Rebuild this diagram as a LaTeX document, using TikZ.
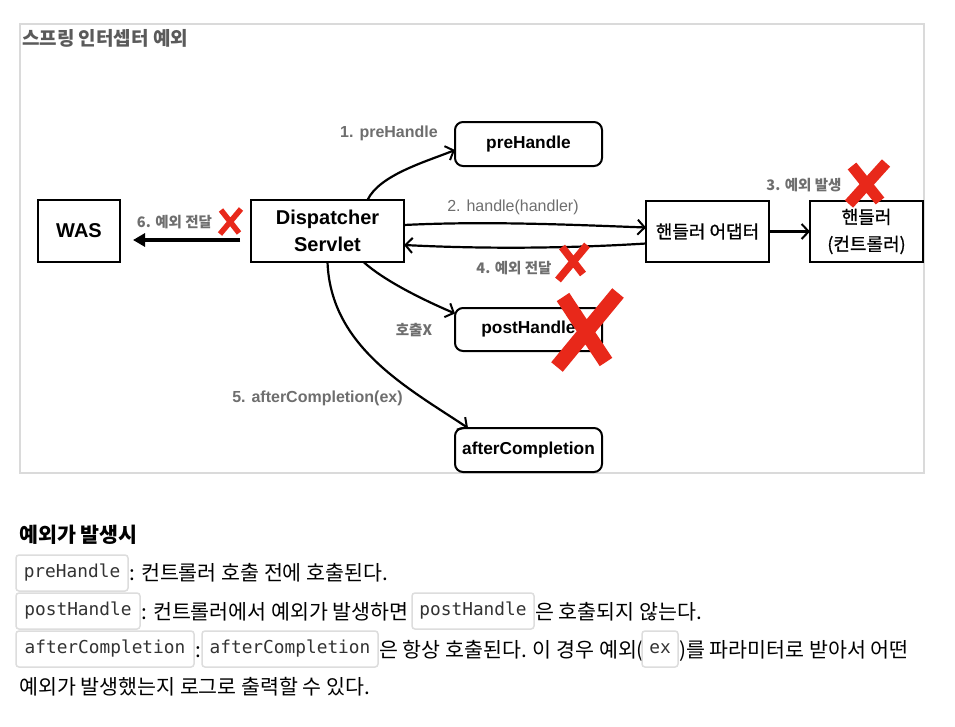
\documentclass[tikz,border=0pt]{standalone}
\usepackage{fontspec}
\setmainfont{Liberation Sans}
\newfontfamily\kr{Noto Sans CJK KR}
\newfontfamily\krm[FakeBold=0.8]{Noto Sans CJK KR}
\newfontfamily\monofnt{DejaVu Sans Mono}
\usetikzlibrary{arrows.meta}
\definecolor{lblgray}{HTML}{6E6E6E}
\definecolor{xred}{HTML}{E8281A}
\definecolor{codeborder}{HTML}{DDDDDD}
\definecolor{codetext}{HTML}{333333}
\definecolor{frameg}{HTML}{DADADA}
\definecolor{titleg}{HTML}{5A5A5A}
\tikzset{
  nbox/.style={draw=black, line width=2pt, inner sep=0pt, outer sep=0pt, align=center,
    font=\fontsize{20}{27}\selectfont\bfseries},
  rbox/.style={nbox, rounded corners=8pt, font=\fontsize{17.3}{20}\selectfont\bfseries},
  kbox/.style={nbox, font=\krm\fontsize{18}{29}\selectfont},
  conn/.style={line width=2.2pt, -{Straight Barb[length=7pt,width=15pt,line width=2pt]}},
  lbl/.style={text=lblgray, font=\fontsize{16}{19}\selectfont\bfseries, inner sep=0pt},
  lblthin/.style={text=lblgray, font=\fontsize{16}{19}\selectfont, inner sep=0pt},
  klbl/.style={text=lblgray, font=\kr\fontsize{14.5}{17}\selectfont\bfseries, inner sep=0pt},
  xmark/.style={draw=xred, line cap=butt},
  codebox/.style={draw=codeborder, line width=1.5pt, rounded corners=3pt, fill=white,
    text=codetext, font=\monofnt\fontsize{17.8}{20}\selectfont, inner sep=0pt, outer sep=0pt,
    minimum height=36pt},
  bodytxt/.style={font=\kr\fontsize{20.6}{24}\selectfont, text=black, inner sep=0pt, anchor=base west},
}
\begin{document}
\begin{tikzpicture}[x=1pt,y=-1pt]
\fill[white] (0,0) rectangle (955,726);
\useasboundingbox (0,0) rectangle (955,726);
% frame
\draw[frameg, line width=2pt] (20,24) rectangle (924,473);
\node[anchor=west, text=titleg, inner sep=0pt, font=\kr\fontsize{19}{22}\selectfont\bfseries] (title) at (22,38) {스프링 인터셉터 예외};

% boxes
\node[nbox, minimum width=82pt, minimum height=62pt] (was) at (79,231) {WAS};
\node[nbox, minimum width=153pt, minimum height=62pt] (ds) at (327.5,231) {Dispatcher\\Servlet};
\node[rbox, minimum width=147pt, minimum height=44pt] (pre) at (528.5,144) {preHandle};
\node[rbox, minimum width=147pt, minimum height=43pt] (post) at (528.5,329.5) {postHandle};
\node[rbox, minimum width=147pt, minimum height=44pt] (after) at (528.5,450) {afterCompletion};
\node[kbox, minimum width=123pt, minimum height=61pt] (adapter) at (707.5,231.5) {핸들러 어댑터};
\node[kbox, minimum width=113pt, minimum height=61pt] (handler) at (866.5,231.5) {\raisebox{-2pt}{핸들러}\\(컨트롤러)};

% connectors
\draw[conn] ([xshift=40pt]ds.north) .. controls +(12,-25) and +(-30,12) .. ([yshift=-6pt]pre.west);
\draw[conn] ([yshift=6pt]ds.east) .. controls +(80,-4) and +(-80,-3) .. ([yshift=4pt]adapter.west);
\draw[conn] ([yshift=-12pt]adapter.west) .. controls +(-80,5) and +(80,4) .. ([yshift=-14pt]ds.east);
\draw[conn] (adapter.east) -- (handler.west);
\draw[line width=4pt, -{Triangle[length=12pt,width=13pt]}] ([xshift=-11pt,yshift=-9pt]ds.west) -- ([xshift=13pt,yshift=-9pt]was.east);
\draw[conn] ([xshift=36pt]ds.south) .. controls +(20,18) and +(-35,-15) .. ([yshift=16pt]post.west);
\draw[conn] (ds.south) .. controls +(3,85) and +(-60,-40) .. ([xshift=-60.5pt]after.north);

% labels
\node[lbl] (l1) at (389,133) {1. preHandle};
\node[lblthin] (l2) at (513,207) {2. handle(handler)};
\node[klbl] (l3) at (804,185) {3. 예외 발생};
\node[klbl] (l4) at (514,268) {4. 예외 전달};
\node[klbl] (l6) at (174.5,222) {6. 예외 전달};
\node[klbl] (lx) at (414,330) {호출X};
\node[lbl] (l5) at (317.5,398) {5. afterCompletion(ex)};

% red X marks
\draw[xmark, line width=5.5pt] (221,210) -- (239,233) (241,209) -- (220,234);
\draw[xmark, line width=7.5pt] (562,247) -- (583,274) (587,245) -- (558,280);
\draw[xmark, line width=11pt] (852,166) -- (880,201) (886,163) -- (849,204);
\draw[xmark, line width=15pt] (563,297) -- (606,362) (618,293) -- (557,367);

% bottom text
\node[anchor=base west, inner sep=0pt, font=\kr\fontsize{20.6}{24}\selectfont\bfseries] (head) at (19,542) {예외가 발생시};

\node[codebox, minimum width=112pt] (c1) at (72,573) {preHandle};
\node[bodytxt] (t1) at (129,580) {: 컨트롤러 호출 전에 호출된다.};

\node[codebox, minimum width=124pt] (c2) at (78,611) {postHandle};
\node[bodytxt] (t2a) at (141,619) {: 컨트롤러에서 예외가 발생하면};
\node[codebox, minimum width=122pt] (c3) at (473,611) {postHandle};
\node[bodytxt] (t2b) at (535,619) {은 호출되지 않는다.};

\node[codebox, minimum width=178pt] (c4) at (105,649) {afterCompletion};
\node[bodytxt] (t3a) at (195,657) {:};
\node[codebox, minimum width=176pt] (c5) at (290,649) {afterCompletion};
\node[bodytxt] (t3b) at (379,657) {은 항상 호출된다. 이 경우 예외(};
\node[codebox, minimum width=36pt] (c6) at (660,649) {ex};
\node[bodytxt] (t3c) at (679,657) {)를 파라미터로 받아서 어떤};

\node[bodytxt] (t4) at (19,694) {예외가 발생했는지 로그로 출력할 수 있다.};
\end{tikzpicture}
\end{document}
